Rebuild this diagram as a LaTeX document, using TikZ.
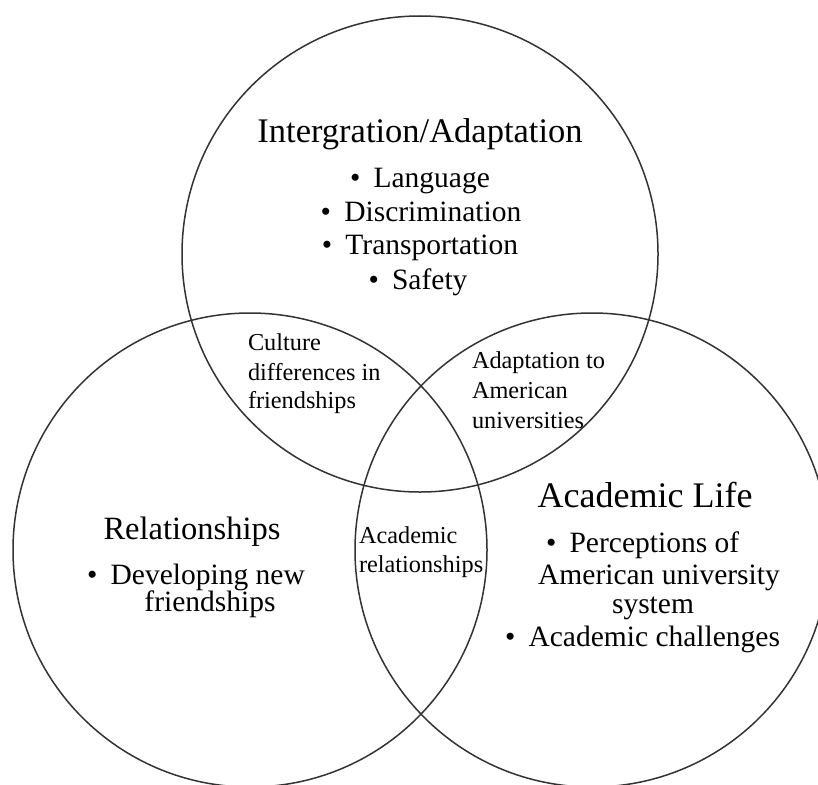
\documentclass[tikz,border=0pt]{standalone}
\usepackage{fontspec}
\setmainfont{Liberation Serif}
\newcommand{\bl}{•\hspace{0.45em}}
\begin{document}
\begin{tikzpicture}[x=1pt,y=-1pt,
  ring/.style={draw=black!80,line width=1.5pt},
  txt/.style={inner sep=0pt,outer sep=0pt,text=black},
  ttl/.style={txt,font=\fontsize{34.5}{40}\selectfont},
  bul/.style={txt,font=\fontsize{29.5}{34}\selectfont},
  lbl/.style={txt,font=\fontsize{24.3}{29}\selectfont}]
\useasboundingbox (0,0) rectangle (818,784);
\fill[white] (0,0) rectangle (818,784);
\begin{scope}
\clip (0,0) rectangle (818,784);
\draw[ring] (420,254) circle[radius=238pt];
\draw[ring] (250,550) circle[radius=237pt];
\draw[ring] (592,550) circle[radius=237pt];
\end{scope}
% top circle
\node[ttl,anchor=base] (t0) at (420,142) {Intergration/Adaptation};
\node[bul,anchor=base] (t1) at (420,187) {\bl Language};
\node[bul,anchor=base] (t2) at (421,221) {\bl Discrimination};
\node[bul,anchor=base] (t3) at (420,254) {\bl Transportation};
\node[bul,anchor=base] (t4) at (418,289) {\bl Safety};
% overlaps
\node[lbl,anchor=base west] (c1) at (248,350) {Culture};
\node[lbl,anchor=base west] (c2) at (248,380) {differences in};
\node[lbl,anchor=base west] (c3) at (248,408) {friendships};
\node[lbl,anchor=base west] (a1) at (472,368) {Adaptation to};
\node[lbl,anchor=base west] (a2) at (472,398) {American};
\node[lbl,anchor=base west] (a3) at (472,428) {universities};
\node[lbl,anchor=base west] (r1) at (359,543) {Academic};
\node[lbl,anchor=base west] (r2) at (359,572) {relationships};
% left circle
\node[ttl,anchor=base,font=\fontsize{32.5}{38}\selectfont] (l0) at (192,539) {Relationships};
\node[bul,anchor=base] (l1) at (196,584) {\bl Developing new};
\node[bul,anchor=base] (l2) at (210,611) {friendships};
% right circle
\node[ttl,anchor=base,font=\fontsize{36}{42}\selectfont] (g0) at (645,507) {Academic Life};
\node[bul,anchor=base west] (g1) at (546,552) {\bl Perceptions of};
\node[bul,anchor=base] (g2) at (659,584) {American university};
\node[bul,anchor=base] (g3) at (653,613) {system};
\node[bul,anchor=base west] (g4) at (505,646) {\bl Academic challenges};
\end{tikzpicture}
\end{document}
